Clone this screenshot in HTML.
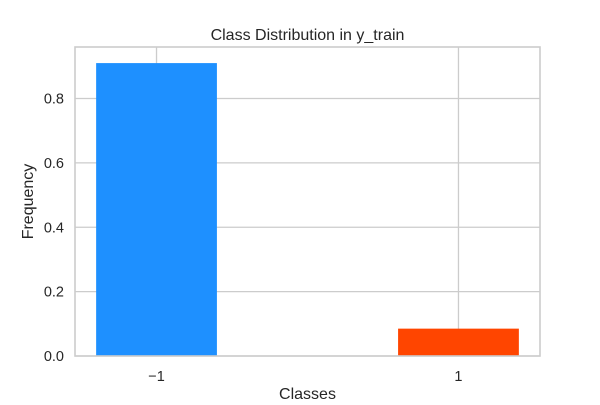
<!DOCTYPE html>
<html><head><meta charset="utf-8"><style>
body{margin:0;background:#fff;}
svg text{font-family:"Liberation Sans",sans-serif;fill:#262626;}
</style></head><body>
<svg id="c" width="600" height="400"></svg>
<script>
const categories=["\u22121","1"];
const values=[0.91,0.085];
const colors=["#1e90ff","#ff4500"];
const yTicks=[0,0.2,0.4,0.6,0.8];
const yTickLabels=["0.0","0.2","0.4","0.6","0.8"];
const L=75,R=540,T=47,B=356;
const xMin=-0.27,xMax=1.27,yMax=0.96;
const xs=i=>L+(i-xMin)/(xMax-xMin)*(R-L);
const ys=v=>B-v/yMax*(B-T);
const svg=document.getElementById('c');
const NS='http://www.w3.org/2000/svg';
function mk(tag,attrs,parent){const e=document.createElementNS(NS,tag);for(const k in attrs)e.setAttribute(k,attrs[k]);(parent||svg).appendChild(e);return e;}
const grid=mk('g',{});


yTicks.forEach((v,i)=>{
  mk('line',{x1:L,x2:R,y1:ys(v),y2:ys(v),stroke:'#cccccc','stroke-width':1.3},grid);
  const t=mk('text',{x:L-11,y:ys(v)+5,'text-anchor':'end','font-size':14.5});
  t.textContent=yTickLabels[i];
  
  
});
categories.forEach((c,i)=>{
  mk('line',{x1:xs(i),x2:xs(i),y1:T,y2:B,stroke:'#cccccc','stroke-width':1.3},grid);
  const t=mk('text',{x:xs(i),y:B+25,'text-anchor':'middle','font-size':14.5});
  t.textContent=c;
  
  
});
categories.forEach((c,i)=>{
  const w=0.4/(xMax-xMin)*(R-L);
  const r=mk('rect',{x:xs(i)-w/2,y:ys(values[i]),width:w,height:B-ys(values[i]),fill:colors[i]});
  
  
});
const fr=mk('rect',{x:L,y:T,width:R-L,height:B-T,fill:'none',stroke:'#cccccc','stroke-width':1.6});


const ti=mk('text',{x:(L+R)/2,y:40,'text-anchor':'middle','font-size':16});
ti.textContent='Class Distribution in y_train';


const xl=mk('text',{x:(L+R)/2,y:399,'text-anchor':'middle','font-size':16});
xl.textContent='Classes';


const yl=mk('text',{x:33,y:(T+B)/2,'text-anchor':'middle','font-size':16,transform:'rotate(-90 33 '+((T+B)/2)+')'});
yl.textContent='Frequency';


</script>
</body></html>
